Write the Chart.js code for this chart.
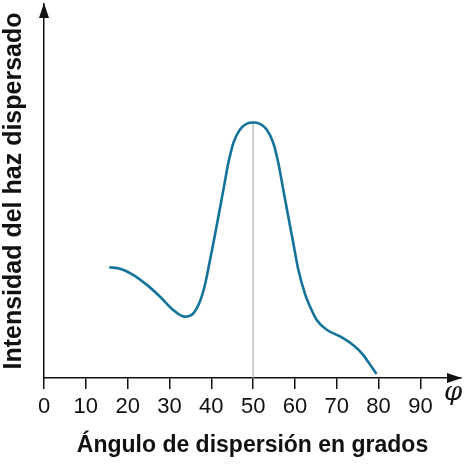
<!DOCTYPE html>
<html>
<head>
<meta charset="utf-8">
<script src="https://cdn.jsdelivr.net/npm/chart.js@4.4.0/dist/chart.umd.min.js"></script>
<style>
html,body{margin:0;padding:0;background:#fff;}
#wrap{width:464px;height:464px;position:relative;}
</style>
</head>
<body>
<div id="wrap"><canvas id="c"></canvas></div>
<script>
// Data (angle in degrees, intensity in arbitrary units)
const angles = [15.6, 18.2, 21.3, 24.6, 27.7, 30.9, 33.7, 35.7, 37.3, 38.5, 39.6, 40.5, 41.7, 42.9, 44.1, 45.3, 46.9, 48.5, 50.0, 51.5, 53.2, 54.8, 56.0, 57.2, 58.4, 59.6, 60.8, 62.4, 63.6, 65.2, 67.6, 70.8, 73.9, 76.3, 78.3, 79.5];
const intensity = [29.6, 29.2, 27.6, 24.9, 21.8, 18.2, 16.4, 17.3, 20.5, 25.0, 31.0, 36.1, 43.2, 50.4, 57.6, 62.9, 66.5, 68.0, 68.3, 68.0, 66.5, 62.9, 57.6, 50.4, 43.2, 36.1, 29.0, 22.5, 19.1, 15.5, 12.9, 11.1, 8.8, 6.2, 3.0, 1.1];
const peakAngle = 50;
const peakIntensity = 68.3;
const xTickValues = [0, 10, 20, 30, 40, 50, 60, 70, 80, 90];
const xTitle = 'Ángulo de dispersión en grados';
const yTitle = 'Intensidad del haz dispersado';

const curve = angles.map((a, i) => ({x: a, y: intensity[i]}));
const peakLine = [{x: peakAngle, y: 0}, {x: peakAngle, y: peakIntensity}];

const arrows = {
  id: 'arrows',
  afterDraw(chart) {
    const ctx = chart.ctx;
    const xs = chart.scales.x, ys = chart.scales.y;
    const x0 = xs.getPixelForValue(0);
    const y0 = ys.getPixelForValue(0);
    const xEnd = xs.right;
    const yEnd = ys.top;
    ctx.save();
    ctx.fillStyle = '#111';
    ctx.beginPath();
    ctx.moveTo(xEnd + 1, y0);
    ctx.lineTo(xEnd - 14, y0 - 5);
    ctx.lineTo(xEnd - 14, y0 + 5);
    ctx.closePath();
    ctx.fill();
    ctx.beginPath();
    ctx.moveTo(x0, yEnd - 1);
    ctx.lineTo(x0 - 5, yEnd + 14);
    ctx.lineTo(x0 + 5, yEnd + 14);
    ctx.closePath();
    ctx.fill();
    ctx.font = 'italic 26px "DejaVu Serif", serif';
    ctx.textAlign = 'center';
    ctx.textBaseline = 'middle';
    ctx.fillText('φ', xEnd - 8, y0 + 15);
    ctx.restore();
  }
};

new Chart(document.getElementById('c'), {
  type: 'line',
  data: {
    datasets: [
      {
        data: peakLine,
        borderColor: '#b0b0b0',
        borderWidth: 1.2,
        pointRadius: 0,
        tension: 0,
        order: 2
      },
      {
        data: curve,
        borderColor: '#14739a',
        borderWidth: 2.6,
        pointRadius: 0,
        cubicInterpolationMode: 'monotone',
        order: 1
      }
    ]
  },
  options: {
    responsive: true,
    maintainAspectRatio: false,
    animation: false,
    layout: {padding: {top: 4, right: 3, bottom: 0, left: 0}},
    plugins: {legend: {display: false}, tooltip: {enabled: false}},
    scales: {
      x: {
        type: 'linear',
        min: 0,
        max: 99.7,
        afterBuildTicks(scale) {
          scale.ticks = xTickValues.map(v => ({value: v}));
        },
        afterFit(scale) { scale.height = 86; },
        ticks: {
          autoSkip: false,
          maxRotation: 0,
          padding: 5,
          color: '#111',
          font: {family: 'Liberation Sans, Arial, sans-serif', size: 22}
        },
        grid: {display: true, drawOnChartArea: false, drawTicks: true, tickLength: 11, color: '#111', lineWidth: 1.5},
        border: {display: true, color: '#111', width: 1.5},
        title: {
          display: true,
          text: xTitle,
          color: '#111',
          padding: {top: 0, bottom: 5},
          font: {family: 'Liberation Sans, Arial, sans-serif', size: 23, weight: 'bold'}
        }
      },
      y: {
        min: 0,
        max: 100,
        afterFit(scale) { scale.width = 44; },
        ticks: {display: false},
        grid: {display: false},
        border: {display: true, color: '#111', width: 1.5},
        title: {
          display: true,
          text: yTitle,
          color: '#111',
          padding: {top: -1, bottom: 0},
          font: {family: 'Liberation Sans, Arial, sans-serif', size: 25, weight: 'bold'}
        }
      }
    }
  },
  plugins: [arrows]
});
</script>
</body>
</html>
